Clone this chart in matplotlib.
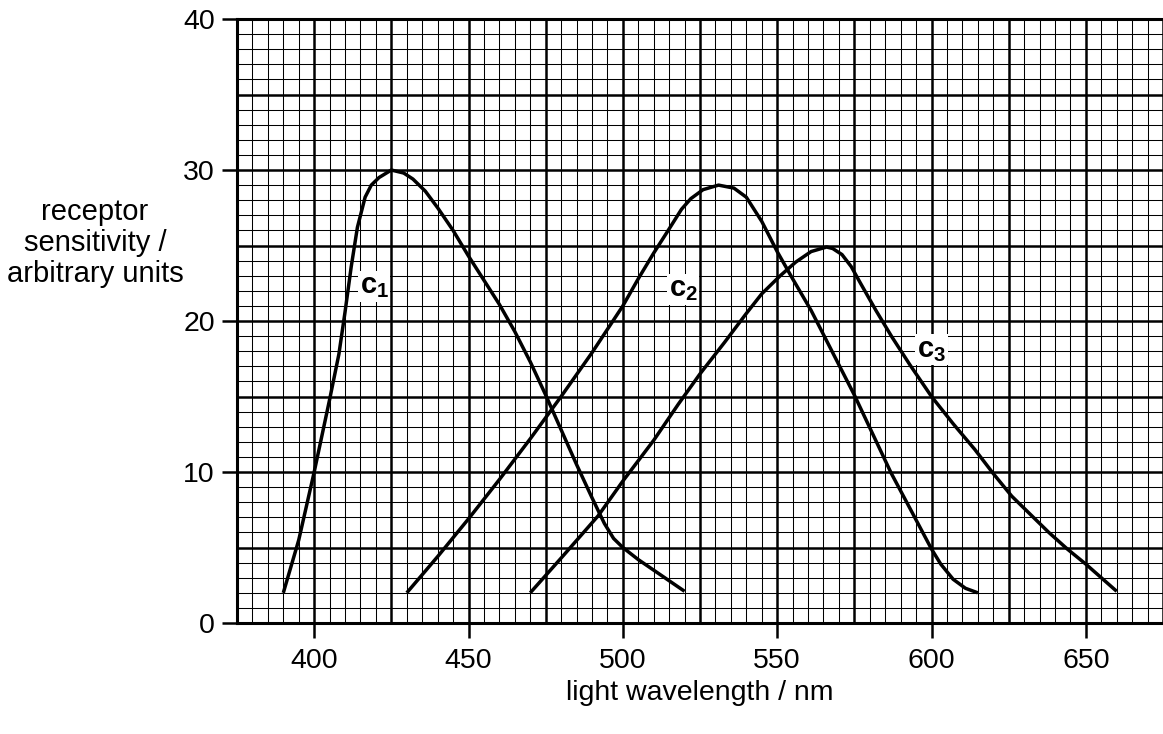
import numpy as np
import matplotlib.pyplot as plt

plt.rcParams['font.family'] = ['Liberation Sans', 'DejaVu Sans']
plt.rcParams['mathtext.fontset'] = 'custom'
plt.rcParams['mathtext.rm'] = 'Liberation Sans'
plt.rcParams['mathtext.bf'] = 'Liberation Sans:bold'

# curve c1
c1_nm = [390, 395, 400, 405, 408, 410, 412, 414, 416.5, 418.5, 421, 425, 429, 432, 436, 440, 445,
         450, 455, 460, 465, 470, 475, 480, 485, 490, 494, 497, 500, 505, 510, 515, 520]
c1_val = [2.0, 5.5, 10.0, 14.8, 17.8, 20.6, 23.6, 26.2, 28.2, 29.0, 29.5, 30.0, 29.8, 29.4, 28.6, 27.5, 26.0,
          24.3, 22.7, 21.1, 19.3, 17.3, 15.1, 12.8, 10.5, 8.3, 6.6, 5.6, 5.0, 4.2, 3.5, 2.8, 2.1]

# curve c2
c2_nm = [430, 440, 450, 460, 470, 480, 490, 500, 505, 510, 515, 519, 522, 526, 531,
         536, 540, 545, 550, 555, 561, 568, 575, 581, 587, 593, 600, 603, 607, 611, 615]
c2_val = [2.0, 4.4, 6.9, 9.5, 12.2, 15.0, 17.9, 21.0, 22.8, 24.5, 26.1, 27.4, 28.1, 28.7, 29.0,
          28.8, 28.2, 26.6, 24.6, 22.8, 20.7, 17.9, 15.1, 12.5, 9.9, 7.6, 4.9, 3.9, 2.9, 2.3, 2.0]

# curve c3
c3_nm = [470, 480, 492, 500, 510, 518, 525, 533, 540, 545, 551, 556, 561, 566, 568, 571, 574, 577,
         582, 587, 593, 600, 607, 614, 620, 626, 632, 638, 644, 650, 655, 660]
c3_val = [2.0, 4.3, 7.1, 9.4, 12.1, 14.5, 16.5, 18.6, 20.5, 21.8, 23.0, 23.9, 24.6, 24.9, 24.8, 24.4, 23.6, 22.5,
          20.7, 19.0, 17.1, 15.0, 13.2, 11.5, 9.9, 8.4, 7.2, 6.0, 4.9, 3.9, 3.0, 2.1]

curve_labels = [r'$\mathbf{c_1}$', r'$\mathbf{c_2}$', r'$\mathbf{c_3}$']
label_pos = [(419.5, 22.3), (519.5, 22.1), (600, 18.1)]

x_ticks = [400, 450, 500, 550, 600, 650]
y_ticks = [0, 10, 20, 30, 40]

fig = plt.figure(figsize=(11.63, 7.34), dpi=100)
ax = fig.add_axes([0.2038, 0.1512, 0.7962, 0.8229])

ax.set_xlim(375, 675)
ax.set_ylim(0, 40)

# graph paper grid
ax.set_xticks(np.arange(375, 676, 25))
ax.set_xticklabels([str(v) if v in x_ticks else '' for v in np.arange(375, 676, 25)])
ax.set_xticks(np.arange(375, 676, 5), minor=True)
ax.set_yticks(np.arange(0, 41, 5))
ax.set_yticklabels([str(v) if v in y_ticks else '' for v in np.arange(0, 41, 5)])
ax.set_yticks(np.arange(0, 41, 1), minor=True)

ax.grid(which='major', color='black', linewidth=1.8)
ax.grid(which='minor', color='black', linewidth=0.75)
ax.set_axisbelow(True)

ax.tick_params(which='major', direction='out', length=11, width=1.8, labelsize=20.5, pad=5, color='black')
ax.tick_params(axis='x', which='major', pad=7)
ax.tick_params(which='minor', length=0)

for t, v in zip(ax.xaxis.get_major_ticks(), np.arange(375, 676, 25)):
    if v not in x_ticks:
        t.tick1line.set_visible(False)
for t, v in zip(ax.yaxis.get_major_ticks(), np.arange(0, 41, 5)):
    if v not in y_ticks:
        t.tick1line.set_visible(False)

for s in ['left', 'bottom', 'top']:
    ax.spines[s].set_linewidth(2.2)
ax.spines['right'].set_visible(False)

for nm, val in [(c1_nm, c1_val), (c2_nm, c2_val), (c3_nm, c3_val)]:
    ax.plot(nm, val, color='black', linewidth=2.5, solid_capstyle='butt',
            solid_joinstyle='round', zorder=3)

for lab, (x, y) in zip(curve_labels, label_pos):
    ax.text(x, y, lab, fontsize=21, ha='center', va='center', zorder=4,
            bbox=dict(facecolor='white', edgecolor='none', pad=1.0))

fig.text(95 / 1163, 1 - 243 / 734, 'receptor\nsensitivity /\narbitrary units',
         ha='center', va='center', fontsize=21, linespacing=1.15)
fig.text(700 / 1163, 1 - 693 / 734, 'light wavelength / nm',
         ha='center', va='center', fontsize=20.5)

plt.savefig('out.png', dpi=100)
plt.close(fig)
